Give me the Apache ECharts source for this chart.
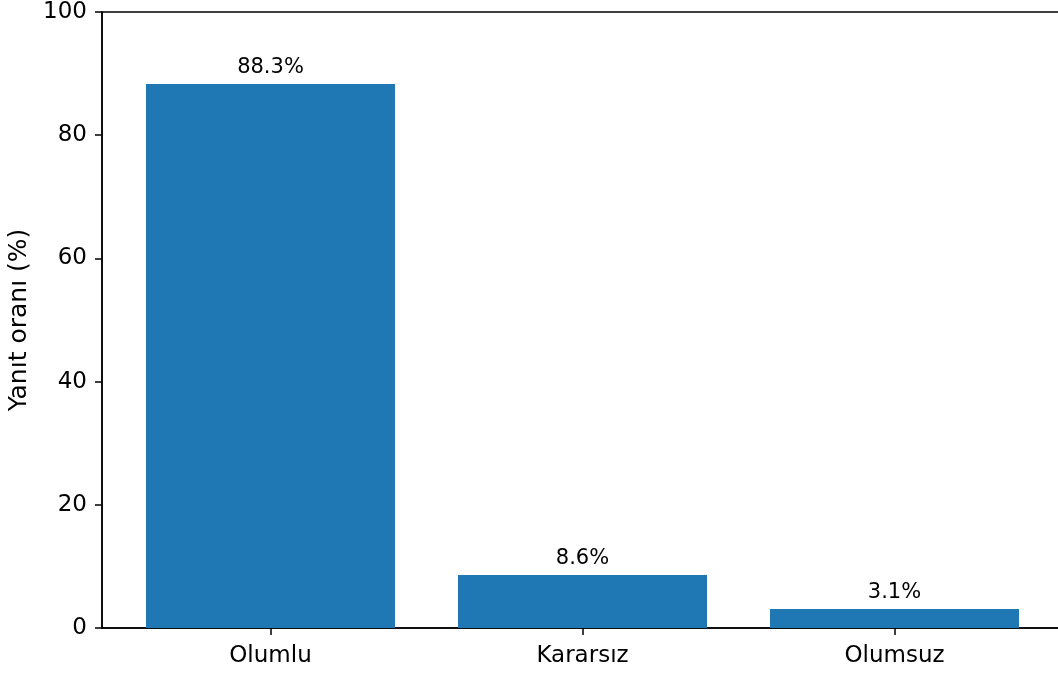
<!DOCTYPE html>
<html>
<head>
<meta charset="utf-8">
<script src="https://cdn.jsdelivr.net/npm/echarts@6/dist/echarts.min.js"></script>
<style>
  html, body { margin: 0; padding: 0; background: #fff; }
  #chart { width: 1058px; height: 675px; }
</style>
</head>
<body>
<div id="chart"></div>
<script>
// veriler
const categories = ['Olumlu', 'Kararsız', 'Olumsuz']
const values = [88.3, 8.6, 3.1]
const yTicks = [0, 20, 40, 60, 80, 100]

const font = 'DejaVu Sans'
const chart = echarts.init(document.getElementById('chart'))

chart.setOption({
  animation: false,
  grid: {
    left: 102,
    top: 12,
    width: 961, // sağ kenar tuvalin dışında kalıyor
    height: 616,
    outerBoundsMode: 'none',
    containLabel: false,
    show: true,
    borderColor: '#000',
    borderWidth: 1.5
  },
  xAxis: {
    type: 'value',
    min: -0.54,
    max: 2.54,
    splitLine: { show: false },
    axisLine: { show: true, onZero: false, lineStyle: { color: '#000', width: 1.5 } },
    axisTick: { show: true, length: 7, customValues: [0, 1, 2], lineStyle: { color: '#000', width: 1.5 } },
    axisLabel: {
      customValues: [0, 1, 2],
      formatter: v => categories[Math.round(v)],
      color: '#000',
      fontFamily: font,
      fontSize: 23,
      margin: 17
    }
  },
  yAxis: {
    type: 'value',
    min: yTicks[0],
    max: yTicks[yTicks.length - 1],
    interval: 20,
    name: 'Yanıt oranı (%)',
    nameLocation: 'middle',
    nameGap: 70,
    nameTextStyle: { color: '#000', fontFamily: font, fontSize: 25 },
    splitLine: { show: false },
    axisLine: { show: true, onZero: false, lineStyle: { color: '#000', width: 1.5 } },
    axisTick: { show: true, length: 7, lineStyle: { color: '#000', width: 1.5 } },
    axisLabel: { color: '#000', fontFamily: font, fontSize: 23, margin: 15 }
  },
  series: [{
    type: 'bar',
    barWidth: 249,
    data: values.map((v, i) => [i, v]),
    itemStyle: { color: '#1f77b4' },
    label: {
      show: true,
      position: 'top',
      distance: 6,
      formatter: p => p.value[1].toFixed(1) + '%',
      color: '#000',
      fontFamily: font,
      fontSize: 21
    }
  }]
})
</script>
</body>
</html>
